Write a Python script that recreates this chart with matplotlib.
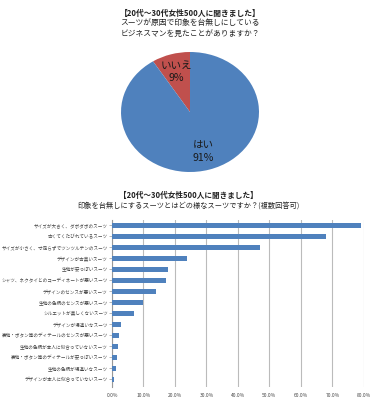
import matplotlib
matplotlib.use('agg')
import matplotlib.pyplot as plt
from matplotlib.ticker import FuncFormatter

plt.rcParams['font.family'] = ['Noto Sans CJK JP', 'DejaVu Sans']

# pie data
pie_labels = ['いいえ', 'はい']
pie_values = [9, 91]
pie_colors = ['#C0504D', '#4F81BD']

# bar data
bar_labels = [
    'サイズが大きく、ダボダボのスーツ',
    '古くてくたびれているスーツ',
    'サイズが小さく、寸足らずでツンツルテンのスーツ',
    'デザインが古臭いスーツ',
    '生地が安っぽいスーツ',
    'シャツ、ネクタイとのコーディネートが悪いスーツ',
    'デザインのセンスが悪いスーツ',
    '生地の色柄のセンスが悪いスーツ',
    'シルエットが美しくないスーツ',
    'デザインが場違いなスーツ',
    '裏地・ボタン等のディテールのセンスが悪いスーツ',
    '生地の色柄が本人に似合っていないスーツ',
    '裏地・ボタン等のディテールが安っぽいスーツ',
    '生地の色柄が場違いなスーツ',
    'デザインが本人に似合っていないスーツ',
]
bar_values = [79.2, 68.0, 47.0, 23.9, 17.9, 17.1, 13.9, 10.0, 7.0, 3.0, 2.2, 2.0, 1.6, 1.2, 0.8]

fig = plt.figure(figsize=(3.77, 4.0), dpi=100)

fig.text(0.504, 0.967, '【20代～30代女性500人に聞きました】', ha='center', va='center',
         fontsize=5.6, fontweight='bold', color='#222222')
fig.text(0.504, 0.942, 'スーツが原因で印象を台無しにしている', ha='center', va='center',
         fontsize=5.6, color='#222222')
fig.text(0.504, 0.916, 'ビジネスマンを見たことがありますか？', ha='center', va='center',
         fontsize=5.6, color='#222222')

ax1 = fig.add_axes([0.321, 0.57, 0.366, 0.30])
pie_text = [f'{n}\n{v}%' for n, v in zip(pie_labels, pie_values)]
wedges, texts = ax1.pie(pie_values, labels=pie_text, colors=pie_colors, startangle=90,
                        counterclock=True, labeldistance=0.7,
                        textprops={'fontsize': 7.6, 'ha': 'center', 'va': 'center',
                                   'color': '#1a1a1a', 'linespacing': 1.25})
ax1.set_aspect('auto')
ax1.set_xlim(-1, 1)
ax1.set_ylim(-1, 1)

fig.text(0.499, 0.512, '【20代～30代女性500人に聞きました】', ha='center', va='center',
         fontsize=5.5, fontweight='bold', color='#222222')
fig.text(0.499, 0.487, '印象を台無しにするスーツとはどの様なスーツですか？(複数回答可)',
         ha='center', va='center', fontsize=5.2, color='#222222')

ax2 = fig.add_axes([0.297, 0.0325, 0.668, 0.4175])
y = list(range(len(bar_labels)))
ax2.barh(y, bar_values, height=0.42, color='#4F81BD', zorder=3)
ax2.set_yticks(y)
ax2.set_yticklabels(bar_labels, fontsize=3.3, color='#444444')
ax2.set_ylim(14.7, -0.5)
ax2.set_xlim(0, 80)
ax2.set_xticks(range(0, 81, 10))
ax2.xaxis.set_major_formatter(FuncFormatter(lambda v, p: f'{v:.1f}%'))
ax2.tick_params(axis='x', labelsize=3.5, length=0, pad=4, colors='#444444')
ax2.tick_params(axis='y', length=2, width=0.5, color='#999999', pad=1)
ax2.grid(axis='x', color='#BBBBBB', linewidth=0.8, zorder=0)
for s in ['top', 'right', 'bottom']:
    ax2.spines[s].set_visible(False)
ax2.spines['left'].set_color('#999999')
ax2.spines['left'].set_linewidth(0.8)

plt.savefig('out.png', dpi=100)
